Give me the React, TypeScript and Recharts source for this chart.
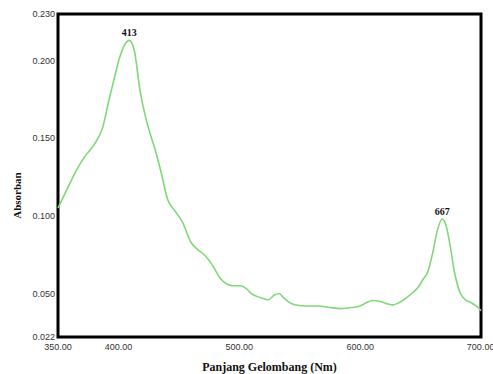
import React from "react";
import {
  LineChart,
  Line,
  XAxis,
  YAxis,
  ReferenceArea,
  ReferenceDot,
} from "recharts";

// absorption spectrum
const wavelengths = [
  350, 358, 365, 372, 380, 387, 392, 397, 401, 405, 409, 413, 418, 423, 427,
  431, 435, 441, 447, 453, 460, 466, 471, 478, 484, 490, 495, 501, 506, 510,
  515, 519, 524, 529, 533, 537, 542, 548, 555, 565, 575, 584, 593, 600, 605,
  610, 616, 622, 627, 632, 638, 644, 648, 652, 656, 660, 664, 668, 671, 674,
  678, 683, 687, 692, 696, 700,
];

const absorbance = [
  0.105, 0.118, 0.129, 0.138, 0.146, 0.157, 0.174, 0.19, 0.202, 0.21, 0.213,
  0.207, 0.18, 0.162, 0.151, 0.141, 0.129, 0.11, 0.103, 0.096, 0.083, 0.078,
  0.075, 0.068, 0.06, 0.056, 0.055, 0.055, 0.053, 0.05, 0.048, 0.047, 0.046,
  0.049, 0.05, 0.047, 0.044, 0.0425, 0.042, 0.042, 0.041, 0.0403, 0.041,
  0.042, 0.044, 0.0455, 0.045, 0.0435, 0.0427, 0.044, 0.047, 0.051, 0.054,
  0.059, 0.064, 0.076, 0.091, 0.098, 0.094, 0.083, 0.064, 0.05, 0.046, 0.044,
  0.042, 0.039,
];

const xTicks = [350, 400, 500, 600, 700];
const yTicks = [0.022, 0.05, 0.1, 0.15, 0.2, 0.23];

const peakWl = [409, 668];
const peakAbs = [0.213, 0.098];
const peakText = ["413", "667"];

const data = wavelengths.map((wl, i) => ({ wl, abs: absorbance[i] }));

const tickStyle = { fill: "#333", fontSize: 9, fontFamily: "Liberation Sans, Arial, sans-serif" };
const titleFont = "Liberation Serif, Times New Roman, serif";

export default function App() {
  return (
    <div style={{ position: "absolute", left: 0, top: 0, background: "#fff" }}>
      <LineChart
        width={493}
        height={374}
        data={data}
        margin={{ top: 14, right: 12, bottom: 0, left: 0 }}
      >
        <XAxis
          dataKey="wl"
          type="number"
          domain={[350, 700]}
          ticks={xTicks}
          tickFormatter={(v: number) => v.toFixed(2)}
          tick={tickStyle}
          axisLine={false}
          tickLine={false}
          tickSize={0}
          tickMargin={7}
          height={37}
          label={{
            value: "Panjang Gelombang (Nm)",
            position: "insideBottom",
            offset: 3,
            style: { fontFamily: titleFont, fontWeight: "bold", fontSize: 12, fill: "#111" },
          }}
        />
        <YAxis
          type="number"
          domain={[0.022, 0.23]}
          ticks={yTicks}
          tickFormatter={(v: number) => v.toFixed(3)}
          tick={tickStyle}
          axisLine={false}
          tickLine={false}
          tickSize={0}
          tickMargin={3}
          width={58}
          label={{
            content: (props: any) => {
              const vb = props.viewBox || { x: 0, y: 0, height: 0 };
              const cx = 17;
              const cy = vb.y + vb.height / 2 + 20;
              return (
                <text
                  x={cx}
                  y={cy}
                  transform={`rotate(-90 ${cx} ${cy})`}
                  textAnchor="middle"
                  dominantBaseline="central"
                  fontFamily={titleFont}
                  fontWeight="bold"
                  fontSize={11}
                  fill="#111"
                >
                  Absorban
                </text>
              );
            },
          }}
        />
        <Line
          type="monotone"
          dataKey="abs"
          stroke="#80d878"
          strokeWidth={1.6}
          dot={false}
          isAnimationActive={false}
        />
        {peakWl.map((wl, i) => (
          <ReferenceDot
            key={wl}
            x={wl}
            y={peakAbs[i]}
            r={0}
            stroke="none"
            fill="none"
            label={{
              value: peakText[i],
              position: "top",
              offset: 4,
              style: { fontFamily: titleFont, fontWeight: "bold", fontSize: 10, fill: "#111" },
            }}
          />
        ))}
        <ReferenceArea
          x1={350}
          x2={700}
          y1={0.022}
          y2={0.23}
          fill="none"
          fillOpacity={0}
          stroke="#000"
          strokeWidth={3}
          strokeOpacity={1}
        />
      </LineChart>
    </div>
  );
}
